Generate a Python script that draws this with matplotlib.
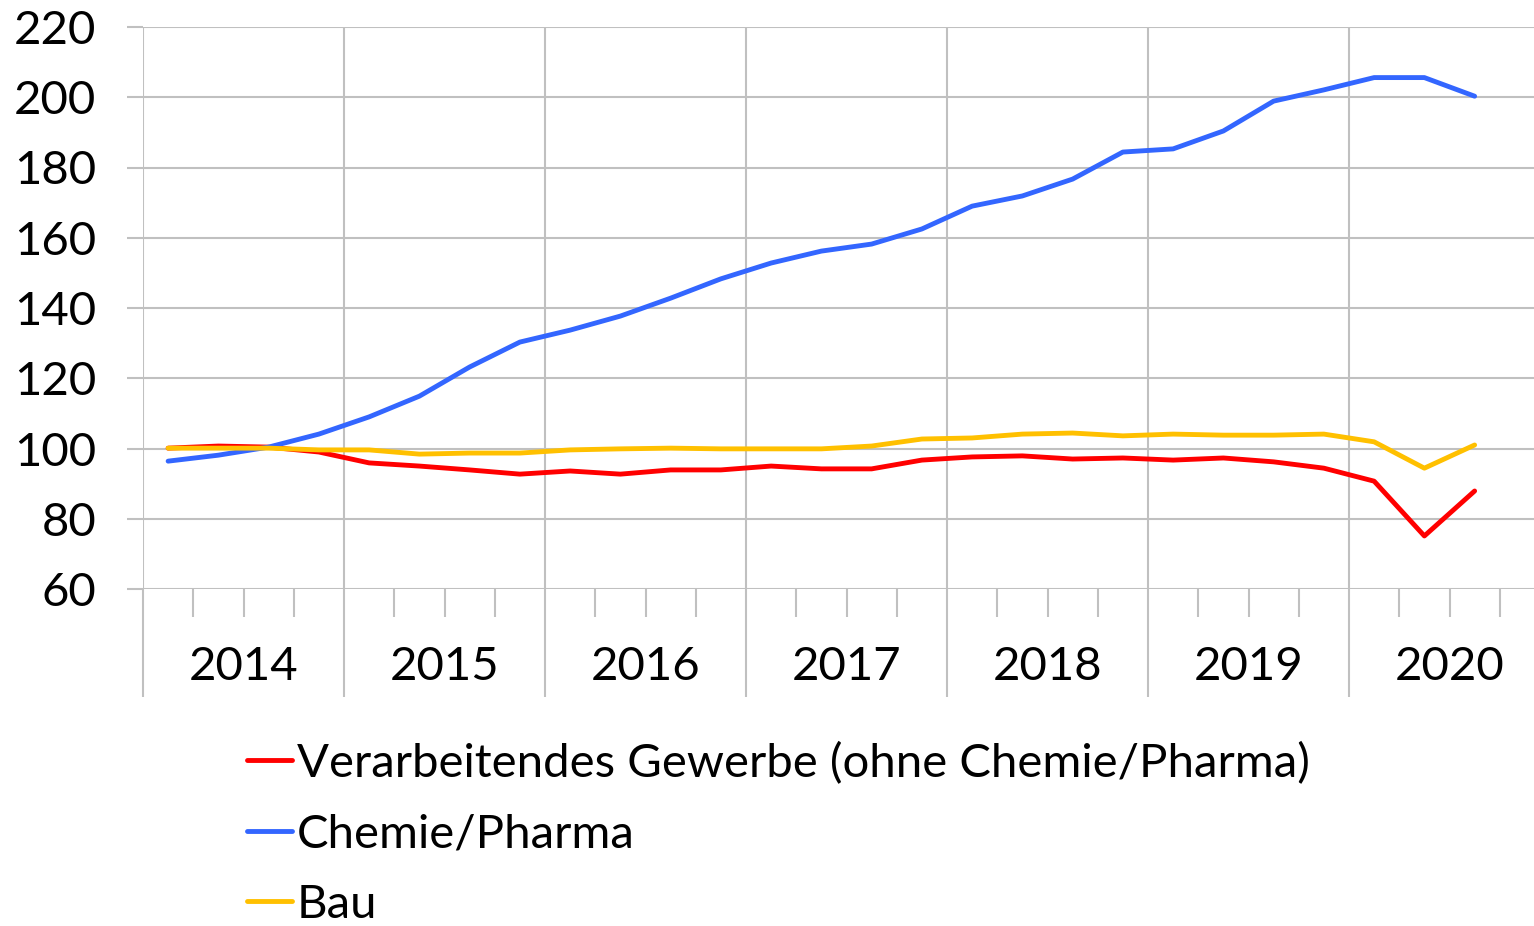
import matplotlib
matplotlib.use("Agg")
import matplotlib.pyplot as plt
import matplotlib.transforms as mtransforms
import numpy as np

# quarterly index, 2014Q1 - 2020Q3
years = ["2014", "2015", "2016", "2017", "2018", "2019", "2020"]
n_slots = 28  # 7 years x 4 quarters, last quarter of 2020 empty

verarbeitendes = [100.1, 100.7, 100.4, 99.0, 95.9, 95.0, 93.9, 92.7, 93.6, 92.7,
                  93.9, 93.9, 95.0, 94.2, 94.2, 96.7, 97.6, 97.9, 97.0, 97.3,
                  96.7, 97.3, 96.2, 94.4, 90.7, 75.1, 87.9]
chemie = [96.4, 98.1, 100.4, 104.1, 109.0, 114.9, 123.2, 130.3, 133.7, 137.7,
          142.8, 148.3, 152.8, 156.2, 158.2, 162.5, 169.0, 171.9, 176.7, 184.4,
          185.3, 190.4, 198.9, 202.1, 205.6, 205.6, 200.3]
bau = [100.1, 100.1, 100.1, 99.6, 99.6, 98.4, 98.7, 98.7, 99.6, 99.9,
       100.1, 99.9, 99.9, 99.9, 100.7, 102.7, 103.0, 104.1, 104.4, 103.6,
       104.1, 103.8, 103.8, 104.1, 101.9, 94.4, 101.0]

labels = ["Verarbeitendes Gewerbe (ohne Chemie/Pharma)", "Chemie/Pharma", "Bau"]
colors = ["#ff0000", "#3366ff", "#ffc000"]

plt.rcParams['font.family'] = ['Lato', 'DejaVu Sans']
fs = 34
grid_c = "#c0c0c0"

W, H = 1534, 926
fig = plt.figure(figsize=(W / 100, H / 100), dpi=100)
x0, x1, y0, y1 = 143, 1550, 27, 589
ax = fig.add_axes([x0 / W, 1 - y1 / H, (x1 - x0) / W, (y1 - y0) / H])

x = np.arange(len(chemie)) + 0.5
for ser, lab, col in zip([verarbeitendes, chemie, bau], labels, colors):
    ax.plot(x, ser, color=col, lw=3.5, label=lab, solid_capstyle='round')

ax.set_xlim(0, n_slots)
ax.set_ylim(60, 220)
ax.set_yticks(np.arange(60, 221, 20))
ax.yaxis.grid(True, color=grid_c, lw=1.5)
ax.set_axisbelow(True)
for s in ax.spines.values():
    s.set_visible(False)
ax.tick_params(axis='y', length=11.5, width=1.5, color=grid_c, labelsize=fs, pad=22)

# year boundaries and quarter ticks
ax.set_xticks(np.arange(0, n_slots + 1, 4))
ax.set_xticks(np.arange(0, n_slots + 1, 1), minor=True)
ax.set_xticklabels([])
ax.tick_params(axis='x', which='major', length=78, width=1.5, color=grid_c)
ax.tick_params(axis='x', which='minor', length=20, width=1.5, color=grid_c)
ax.xaxis.grid(True, which='major', color=grid_c, lw=1.5)

trans = mtransforms.blended_transform_factory(ax.transData, ax.transAxes)
for i, yr in enumerate(years):
    ax.text(i * 4 + 2, -(667 - 589) / (y1 - y0), yr, transform=trans,
            ha='center', va='center', fontsize=fs)

fig.legend(loc='upper left', bbox_to_anchor=(247 / W, 1 - 742 / H),
           frameon=False, fontsize=fs, handlelength=0.95, handletextpad=0.1,
           labelspacing=0.6, borderpad=0, borderaxespad=0)

fig.savefig("out.png", dpi=100)
